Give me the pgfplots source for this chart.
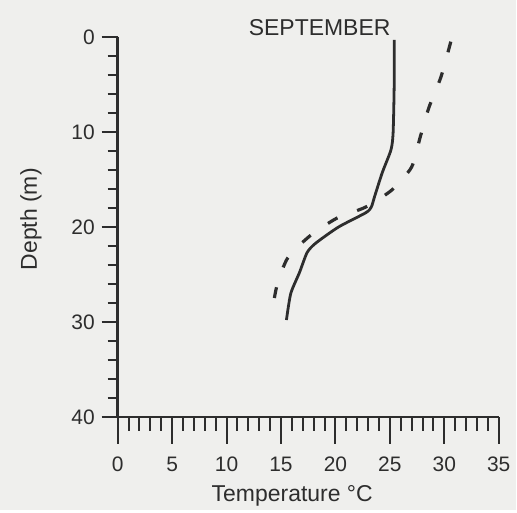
\documentclass[border=0pt]{standalone}
\usepackage{pgfplots}
\pgfplotsset{compat=1.18}
\usepackage{fontspec}
\setmainfont{Liberation Sans}
\definecolor{paper}{RGB}{239,239,237}
\definecolor{ink}{RGB}{45,45,45}

\begin{document}
\begin{tikzpicture}
% page area, 1 px of the reference = 0.5pt
\fill[paper] (-59pt,-46.5pt) rectangle (199.5pt,209pt);

% axis A: data, x ticks, labels
\begin{axis}[
    at={(0pt,0pt)}, anchor=south west,
    scale only axis,
    width=191pt, height=190.5pt,
    xmin=0, xmax=35, ymin=0, ymax=40,
    y dir=reverse,
    axis x line*=bottom, axis y line*=left,
    axis line style={ink, line width=1.3pt, -},
    xtick={0,5,...,35}, minor x tick num=4,
    ytick=\empty,
    tick align=outside,
    major tick length=13.5pt, minor tick length=7pt,
    tick style={ink, line width=1pt},
    ticklabel style={font=\fontsize{10.5}{12}\selectfont, text=ink},
    xticklabel style={yshift=-3pt},
    /pgf/number format/assume math mode=true,
    label style={font=\fontsize{11.5}{13}\selectfont, text=ink},
    xlabel={Temperature °C},
    xlabel style={at={(axis description cs:0.458,0)}, anchor=center, yshift=-39.5pt},
    ylabel={Depth (m)},
    ylabel style={at={([xshift=-43.5pt]axis description cs:0,0.52)}, anchor=center},
    title={SEPTEMBER},
    title style={at={(axis description cs:0.53,1)}, anchor=base, yshift=-5.5pt,
                 font=\fontsize{11.5}{13}\selectfont, text=ink},
    clip=false,
]
\addplot[ink, line width=1.4pt, smooth, tension=0.4] coordinates {
    (25.4,0.3) (25.4,5) (25.3,10.1) (25.1,11.9) (24.3,14.3) (23.6,16.8)
    (23.3,17.9) (22.8,18.5) (20.3,20.0) (18.2,21.7) (17.4,22.7)
    (16.7,24.8) (15.9,27.0) (15.5,29.8)
};
\addplot[ink, line width=1.6pt, smooth, tension=0.4,
         dash pattern=on 5.5pt off 10.5pt] coordinates {
    (30.6,0.5) (29.7,4.2) (28.6,7.4) (27.8,10.5) (27.0,13.7) (25.2,16.1)
    (22.8,17.9) (20.1,19.1) (17.6,21.0) (15.6,23.3) (14.6,26.3) (14.1,29.6)
};
\end{axis}

% axis B: y ticks only (shorter than the x ticks)
\begin{axis}[
    at={(0pt,0pt)}, anchor=south west,
    scale only axis,
    width=191pt, height=190.5pt,
    xmin=0, xmax=35, ymin=0, ymax=40,
    y dir=reverse,
    axis x line=none, axis y line*=left,
    axis line style={ink, line width=1.3pt, -},
    xtick=\empty,
    ytick={0,10,...,40}, minor y tick num=4,
    tick align=outside,
    major tick length=8pt, minor tick length=5pt,
    tick style={ink, line width=1pt},
    ticklabel style={font=\fontsize{10.5}{12}\selectfont, text=ink},
    /pgf/number format/assume math mode=true,
]
\end{axis}
\end{tikzpicture}
\end{document}
